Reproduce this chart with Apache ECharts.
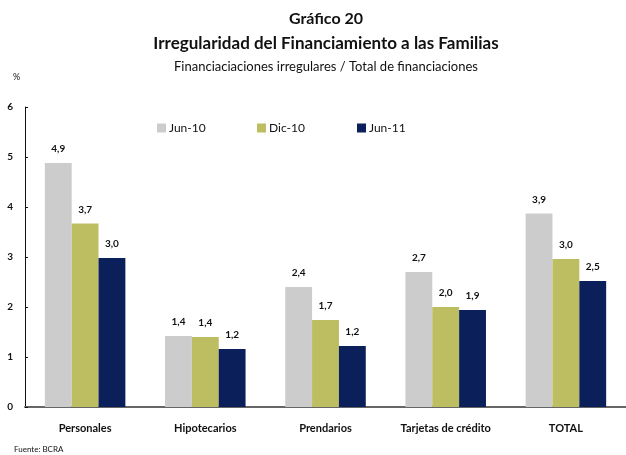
<!DOCTYPE html>
<html>
<head>
    <meta charset="utf-8">
    <title>Gráfico 20</title>
    <script src="https://cdn.jsdelivr.net/npm/echarts@6/dist/echarts.min.js"></script>
    <style>
        html, body { margin: 0; padding: 0; background: #fff; }
    </style>
</head>
<body>
    <div id="main" style="width: 626px;height:455px;"></div>
</body>
<script type="text/javascript">
    // categorias y series
    var categorias = ['Personales', 'Hipotecarios', 'Prendarios', 'Tarjetas de crédito', 'TOTAL'];
    var jun10 = [4.88, 1.42, 2.40, 2.70, 3.87];
    var dic10 = [3.67, 1.40, 1.74, 2.00, 2.96];
    var jun11 = [2.98, 1.16, 1.22, 1.94, 2.52];
    var nombres = ['Jun-10', 'Dic-10', 'Jun-11'];
    var colores = ['#cccccc', '#bdbd62', '#0b1f5b'];

    var fuente = 'Lato, "DejaVu Sans", sans-serif';

    function serie(nombre, datos, color) {
        return {
            name: nombre,
            type: 'bar',
            data: datos,
            barGap: 0,
            barCategoryGap: '33%',
            itemStyle: { color: color },
            label: {
                show: true,
                position: 'top',
                distance: 9,
                fontFamily: fuente,
                fontWeight: 'bold',
                fontSize: 10,
                color: '#111',
                formatter: function (p) {
                    return p.value.toFixed(1).replace('.', ',');
                }
            }
        };
    }

    // una leyenda por serie, separadas 100px como en el original
    function leyenda(nombre, x) {
        return {
            data: [nombre],
            left: x,
            top: 122,
            padding: 0,
            itemWidth: 9,
            itemHeight: 9,
            itemGap: 0,
            icon: 'rect',
            textStyle: { fontFamily: fuente, fontSize: 12, color: '#111', padding: [0, 0, 0, -2] }
        };
    }

    var chart = echarts.init(document.getElementById('main'));
    chart.setOption({
        animation: false,
        backgroundColor: '#fff',
        textStyle: { fontFamily: fuente },
        title: [{
            text: 'Gráfico 20',
            left: 326,
            textAlign: 'center',
            top: 11,
            padding: 0,
            textStyle: { fontFamily: fuente, fontWeight: 'bold', fontSize: 16, color: '#111' }
        }, {
            text: 'Irregularidad del Financiamiento a las Familias',
            left: 326,
            textAlign: 'center',
            top: 35,
            padding: 0,
            textStyle: { fontFamily: fuente, fontWeight: 'bold', fontSize: 17, color: '#111' }
        }, {
            text: 'Financiaciaciones irregulares / Total de financiaciones',
            left: 326,
            textAlign: 'center',
            top: 60,
            padding: 0,
            textStyle: { fontFamily: fuente, fontWeight: 'normal', fontSize: 13, color: '#111' }
        }, {
            text: '%',
            left: 13,
            top: 73,
            padding: 0,
            textStyle: { fontFamily: fuente, fontWeight: 'normal', fontSize: 9, color: '#111' }
        }, {
            text: 'Fuente: BCRA',
            left: 14,
            top: 445,
            padding: 0,
            textStyle: { fontFamily: fuente, fontWeight: 'normal', fontSize: 8, color: '#111' }
        }],
        legend: [
            leyenda(nombres[0], 157),
            leyenda(nombres[1], 257),
            leyenda(nombres[2], 357)
        ],
        grid: {
            left: 25,
            right: 0,
            top: 107,
            bottom: 48
        },
        xAxis: {
            type: 'category',
            data: categorias,
            axisLine: { lineStyle: { color: '#666', width: 2 } },
            axisTick: { inside: true, length: 4, lineStyle: { color: '#333' } },
            axisLabel: {
                margin: 16,
                fontFamily: fuente,
                fontWeight: 'bold',
                fontSize: 11,
                color: '#111',
                interval: 0
            }
        },
        yAxis: {
            type: 'value',
            min: 0,
            max: 6,
            interval: 1,
            splitLine: { show: false },
            axisLine: { show: true, lineStyle: { color: '#111', width: 1 } },
            axisTick: { show: true, inside: true, length: 3, lineStyle: { color: '#111' } },
            axisLabel: {
                margin: 12,
                fontFamily: fuente,
                fontWeight: 'bold',
                fontSize: 10,
                color: '#111'
            }
        },
        series: [
            serie(nombres[0], jun10, colores[0]),
            serie(nombres[1], dic10, colores[1]),
            serie(nombres[2], jun11, colores[2])
        ]
    });
</script>
</html>
